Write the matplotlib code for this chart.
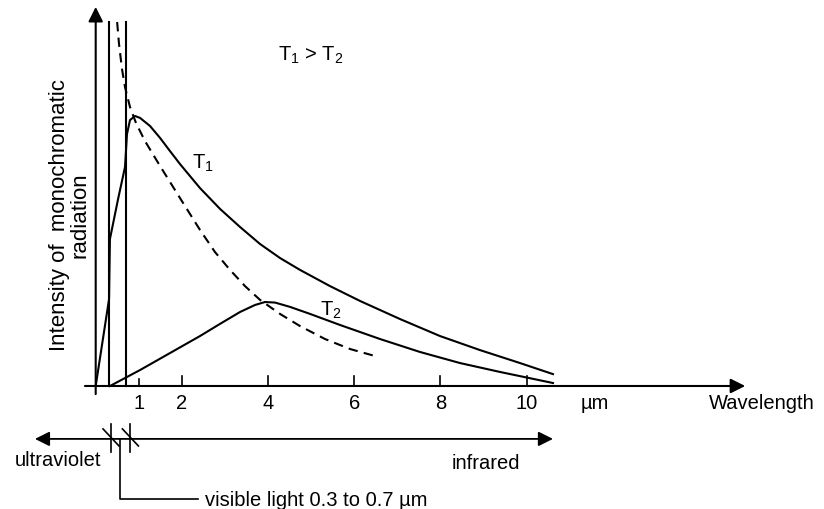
import matplotlib
matplotlib.use("Agg")
import matplotlib.pyplot as plt

plt.rcParams['font.family'] = ['Liberation Sans', 'DejaVu Sans']
plt.rcParams['mathtext.default'] = 'regular'

# wavelength (um) / relative intensity
wl_t1 = [0.0, 0.31, 0.33, 0.52, 0.68, 0.726, 0.796, 0.912, 1.028, 1.26, 1.492,
         1.724, 1.956, 2.42, 2.884, 3.348, 3.812, 4.276, 4.74, 5.436, 6.132,
         7.06, 7.988, 8.916, 9.844, 10.61]
int_t1 = [0.0, 0.322, 0.544, 0.693, 0.811, 0.933, 0.985, 1.0, 0.993, 0.963, 0.919,
          0.870, 0.822, 0.733, 0.656, 0.589, 0.526, 0.474, 0.430, 0.370, 0.315,
          0.248, 0.185, 0.133, 0.085, 0.044]

wl_t2 = [0.332, 1.028, 1.724, 2.42, 2.884, 3.348, 3.696, 3.928, 4.16, 4.508,
         4.972, 5.668, 6.596, 7.524, 8.452, 9.38, 10.61]
int_t2 = [0.0, 0.059, 0.122, 0.185, 0.230, 0.274, 0.300, 0.311, 0.309, 0.293,
          0.267, 0.226, 0.174, 0.126, 0.085, 0.052, 0.011]

wl_dash = [0.497, 0.541, 0.61, 0.68, 0.796, 0.935, 1.144, 1.492, 1.956, 2.42,
           2.768, 3.116, 3.464, 3.812, 4.276, 4.74, 5.32, 5.9, 6.48]
int_dash = [1.348, 1.267, 1.174, 1.107, 1.033, 0.974, 0.907, 0.815, 0.696, 0.578,
            0.496, 0.430, 0.370, 0.319, 0.267, 0.222, 0.174, 0.137, 0.111]

visible_edges = [0.3, 0.7]
tick_vals = [1, 2, 4, 6, 8, 10]
tick_labels = ['1', '2', '4', '6', '8', '10']

fig = plt.figure(figsize=(8.24, 5.10), dpi=100)
ax = fig.add_axes([0, 0, 1, 1])
ax.set_xlim(-2.2204, 16.898)
ax.set_ylim(-0.4556, 1.4333)
ax.axis('off')

lw = 1.5
fs = 14.5
arrow = dict(arrowstyle='-|>', color='k', lw=lw, mutation_scale=22,
             shrinkA=0, shrinkB=0)

# axes with arrows
ax.annotate('', xy=(15.07, 0), xytext=(-0.25, 0), arrowprops=arrow)
ax.annotate('', xy=(0, 1.404), xytext=(0, -0.03), arrowprops=arrow)

# ticks
for t in tick_vals:
    h = 0.025 if t == 1 else 0.037
    ax.plot([t, t], [0, h], color='k', lw=1.2)
for t, lab in zip(tick_vals, tick_labels):
    ax.text(t, -0.063, lab, ha='center', va='center', fontsize=fs)
ax.text(11.58, -0.063, 'µm', ha='center', va='center', fontsize=fs)
ax.text(15.46, -0.063, 'Wavelength', ha='center', va='center', fontsize=fs)

# visible band boundaries
for v in visible_edges:
    ax.plot([v, v], [0, 1.348], color='k', lw=lw)

# curves
ax.plot(wl_t1, int_t1, color='k', lw=lw)
ax.plot(wl_t2, int_t2, color='k', lw=lw)
ax.plot(wl_dash, int_dash, color='k', lw=lw, dashes=[4.5, 3])

ax.text(2.24, 0.83, 'T$_1$', fontsize=fs, va='center')
ax.text(5.2, 0.285, 'T$_2$', fontsize=fs, va='center')
ax.text(4.23, 1.23, 'T$_1$ > T$_2$', fontsize=fs, va='center')

ax.text(-0.594, 0.637, 'Intensity of  monochromatic\nradiation', rotation=90,
        ha='center', va='center', fontsize=16, linespacing=0.95)

# spectrum band below the axis
ax.annotate('', xy=(-1.41, -0.196), xytext=(10.61, -0.196),
            arrowprops=dict(arrowstyle='<|-|>', color='k', lw=1.3,
                            mutation_scale=22, shrinkA=0, shrinkB=0))
for cx in [0.35, 0.80]:
    ax.plot([cx, cx], [-0.141, -0.244], color='k', lw=1.2)
    ax.plot([cx - 0.18, cx + 0.19], [-0.159, -0.222], color='k', lw=1.2)
ax.plot([0.565, 0.565, 2.37], [-0.196, -0.419, -0.419], color='k', lw=1.2)

ax.text(-0.875, -0.272, 'ultraviolet', ha='center', va='center', fontsize=fs)
ax.text(9.84, -0.285, 'infrared', ha='right', va='center', fontsize=fs)
ax.text(2.54, -0.419, 'visible light 0.3 to 0.7 µm', ha='left', va='center',
        fontsize=fs)

fig.savefig('out.png', dpi=100)
